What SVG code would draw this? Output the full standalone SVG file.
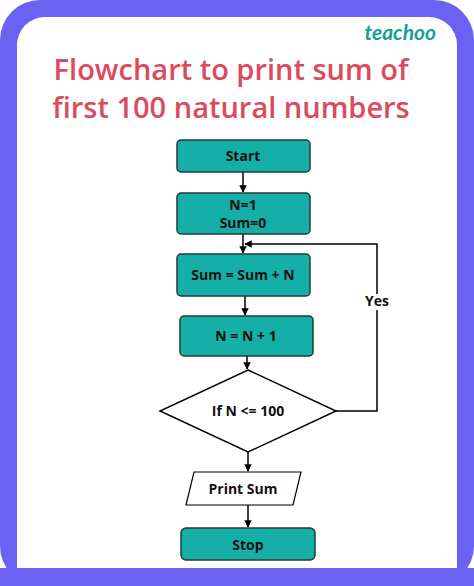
<svg xmlns="http://www.w3.org/2000/svg" width="474" height="586" viewBox="0 0 474 586">
<defs>
<marker id="ah" viewBox="0 0 10 10" refX="9" refY="5" markerWidth="5" markerHeight="5" orient="auto"><path d="M0,0 L10,5 L0,10 z" fill="#000"/></marker>
</defs>
<style>
.box{fill:#14b0a8;stroke:#1f3b3a;stroke-width:1.5}
.t{font-family:"Open Sans","Liberation Sans",sans-serif;font-weight:bold;font-size:14px;fill:#111;text-anchor:middle}
.c{fill:none;stroke:#000;stroke-width:1.5}
</style>
<rect x="0" y="0" width="474" height="586" fill="#fff"/>
<rect x="0" y="0" width="474" height="586" rx="40" fill="#6b62f4"/>
<rect x="17" y="17" width="440" height="600" rx="28" fill="#fff"/>
<rect x="0" y="568" width="474" height="18" fill="#6b62f4"/>
<text x="436" y="40" font-family="Lato,'Liberation Serif',serif" font-style="italic" font-weight="bold" font-size="21" fill="#14a09a" text-anchor="end">teachoo</text>
<text x="231" y="80" font-family="'Open Sans','Liberation Sans',sans-serif" font-weight="600" font-size="29" fill="#dc4a5e" text-anchor="middle">Flowchart to print sum of</text>
<text x="231" y="118" font-family="'Open Sans','Liberation Sans',sans-serif" font-weight="600" font-size="29" fill="#dc4a5e" text-anchor="middle">first 100 natural numbers</text>
<g id="connectors">
<path class="c" d="M243,172 V192" marker-end="url(#ah)"/>
<path class="c" d="M243,234 V253" marker-end="url(#ah)"/>
<path class="c" d="M245,296 V315" marker-end="url(#ah)"/>
<path class="c" d="M247,356 V369" marker-end="url(#ah)"/>
<path class="c" d="M336,411 H377 V244 H245" marker-end="url(#ah)"/>
<path class="c" d="M248,452 V471" marker-end="url(#ah)"/>
<path class="c" d="M248,505 V527" marker-end="url(#ah)"/>
<rect x="363" y="294" width="28" height="16" fill="#fff"/>
<text x="377" y="306" class="t" font-size="11">Yes</text>
</g>
<g id="start"><rect class="box" x="177" y="140" width="133" height="32" rx="4"/><text class="t" x="243" y="161">Start</text></g>
<g id="init"><rect class="box" x="177" y="193" width="133" height="41" rx="4"/><text class="t" x="243" y="210">N=1</text><text class="t" x="243" y="228">Sum=0</text></g>
<g id="sum"><rect class="box" x="177" y="254" width="133" height="42" rx="4"/><text class="t" x="243" y="280">Sum = Sum + N</text></g>
<g id="inc"><rect class="box" x="180" y="316" width="133" height="40" rx="4"/><text class="t" x="246" y="341">N = N + 1</text></g>
<g id="cond"><polygon points="248,370 336,411 248,452 160,411" fill="#fff" stroke="#000" stroke-width="1.5"/><text class="t" x="248" y="416">If N &lt;= 100</text></g>
<g id="print"><polygon points="194,472 301,472 293,505 186,505" fill="#fff" stroke="#000" stroke-width="1.2"/><text class="t" x="243" y="494">Print Sum</text></g>
<g id="stop"><rect class="box" x="181" y="528" width="134" height="32" rx="5"/><text class="t" x="248" y="550">Stop</text></g>
</svg>
